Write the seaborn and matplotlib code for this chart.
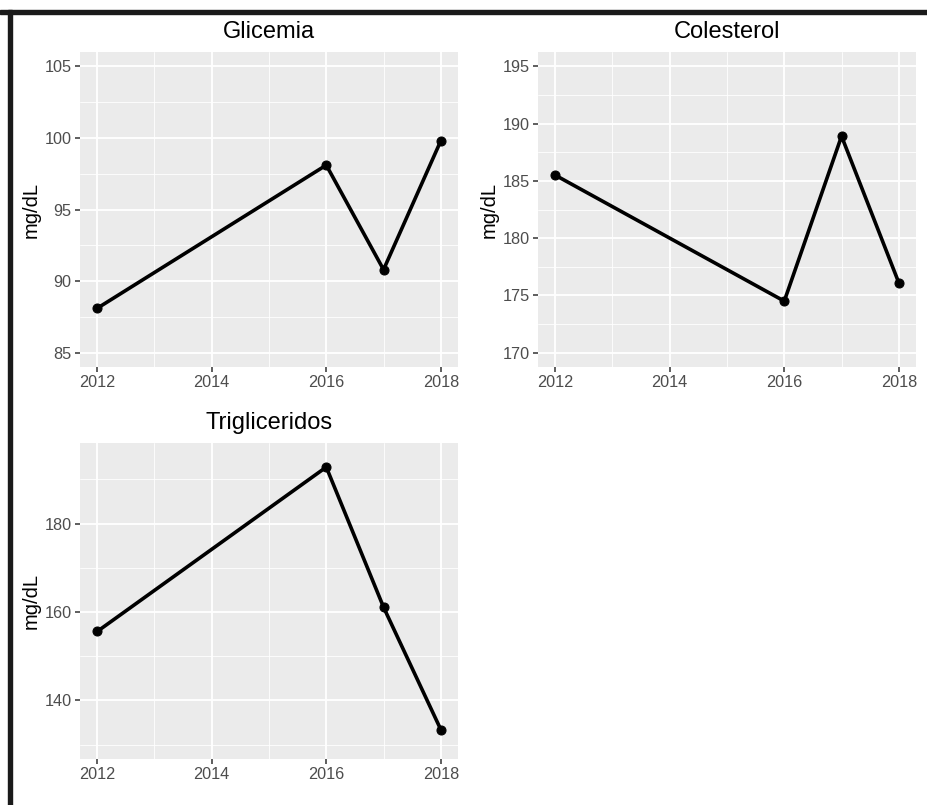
import numpy as np
import pandas as pd
import matplotlib.pyplot as plt
from matplotlib.patches import Rectangle
from matplotlib.ticker import MultipleLocator
import seaborn as sns

# values
years = [2012, 2016, 2017, 2018]
glicemia = [88.1, 98.1, 90.8, 99.8]
colesterol = [185.5, 174.5, 188.9, 176.1]
trigliceridos = [155.6, 192.8, 161.1, 133.4]

panels = ['Glicemia', 'Colesterol', 'Trigliceridos']
df = pd.DataFrame({
    'year': years * 3,
    'value': glicemia + colesterol + trigliceridos,
    'panel': [p for p in panels for _ in years],
})

sns.set_theme(style='darkgrid', rc={
    'axes.facecolor': '#EBEBEB',
    'grid.color': 'white',
    'axes.edgecolor': 'none',
})
plt.rcParams['font.family'] = ['Liberation Sans', 'DejaVu Sans']

fig = plt.figure(figsize=(9.28, 8.05), dpi=100)
W, H = 928, 805

# panel boxes in pixels: left, top, right, bottom
boxes = {
    'Glicemia': (80, 52, 458, 367),
    'Colesterol': (538, 52, 916, 367),
    'Trigliceridos': (80, 443, 458, 759),
}
# limits as set in the original (with 5% padding)
limits = {
    'Glicemia': ((85, 105), 5, 2.5),
    'Colesterol': ((170, 195), 5, 2.5),
    'Trigliceridos': ((130, 195), 20, 10),
}

for name in panels:
    l, t, r, b = boxes[name]
    ax = fig.add_axes([l / W, 1 - b / H, (r - l) / W, (b - t) / H])
    sub = df[df['panel'] == name]
    sns.lineplot(data=sub, x='year', y='value', ax=ax, color='black',
                 linewidth=2.6, marker='o', markersize=6.5,
                 markeredgecolor='black', zorder=3)
    (lo, hi), major, minor = limits[name]
    pad = (hi - lo) * 0.05
    ax.set_ylim(lo - pad, hi + pad)
    ax.set_xlim(2012 - 0.3, 2018 + 0.3)
    ax.xaxis.set_major_locator(MultipleLocator(2))
    ax.xaxis.set_minor_locator(MultipleLocator(1))
    if name == 'Trigliceridos':
        ax.set_yticks([140, 160, 180])
        ax.set_yticks([130, 150, 170, 190], minor=True)
    else:
        ax.yaxis.set_major_locator(MultipleLocator(major))
        ax.yaxis.set_minor_locator(MultipleLocator(minor))
    ax.grid(which='major', color='white', linewidth=1.3)
    ax.grid(which='minor', color='white', linewidth=0.6)
    ax.tick_params(which='major', length=3.5, width=1.1, color='#333333',
                   labelsize=11.7, labelcolor='#4D4D4D', pad=2.5,
                   bottom=True, left=True)
    ax.tick_params(which='minor', length=0)
    ax.set_xlabel('')
    ax.set_ylabel('mg/dL', fontsize=14.5, color='black', labelpad=3)
    ax.set_title(name, fontsize=17, color='black', pad=10)
    for s in ax.spines.values():
        s.set_visible(False)

# dark frame on the top and left edges of the screenshot
fig.add_artist(Rectangle((0, 1 - 14 / H), 1, 4 / H, transform=fig.transFigure,
                         color='#1a1a1a', zorder=10))
fig.add_artist(Rectangle((8 / W, 0), 4 / W, 1 - 10 / H, transform=fig.transFigure,
                         color='#1a1a1a', zorder=10))

fig.savefig('out.png', dpi=100, facecolor='white')
